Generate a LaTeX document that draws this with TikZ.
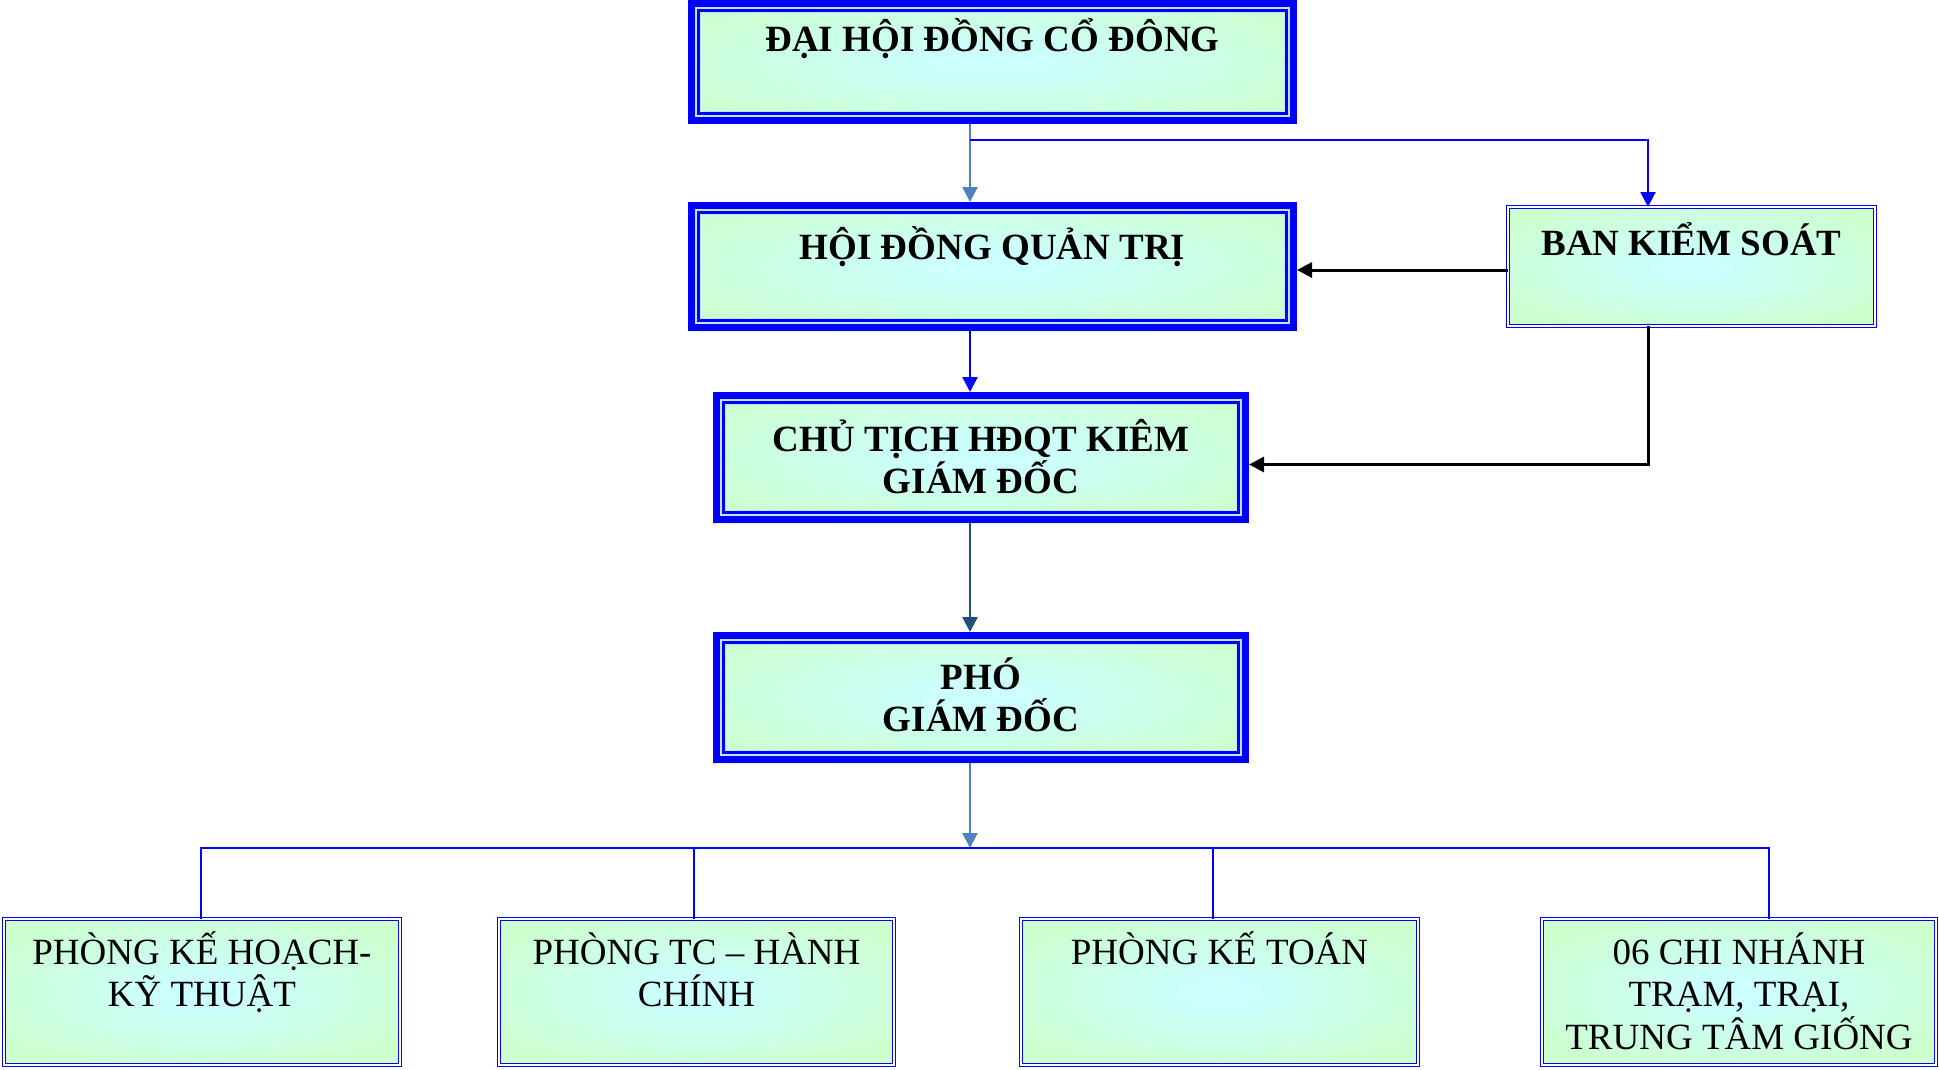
\documentclass[tikz,border=0pt]{standalone}
\usepackage{fontspec}
\setmainfont{Liberation Serif}
\usetikzlibrary{arrows.meta}
\definecolor{fillc}{RGB}{204,255,255}
\definecolor{fillg}{RGB}{204,255,204}
\definecolor{steel}{RGB}{79,129,189}
\definecolor{navyarr}{RGB}{36,76,128}
\definecolor{pale}{RGB}{190,230,240}
\pgfdeclareradialshading{boxshade}{\pgfpoint{0bp}{0bp}}{color(0bp)=(fillc); color(4bp)=(fillc); color(31bp)=(fillg); color(50bp)=(fillg)}
\newcommand\bxt[4]{\parbox[c][#2][t]{#1}{\centering\rule{0pt}{#3}#4}}
\newcommand\bigbf{\fontsize{37}{42}\selectfont\bfseries}
\newcommand\bigrm{\fontsize{37}{42.5}\selectfont}
\begin{document}
\begin{tikzpicture}[x=1pt,y=-1pt,
  box/.style={rectangle, inner sep=0pt, outer sep=0pt, shading=boxshade},
  thinbox/.style={box, draw=blue, line width=1.1pt, double=white, double distance=1.6pt},
  arr/.style={-{Triangle[width=15pt,length=15pt]}},
]
\useasboundingbox (0,0) rectangle (1939,1070);

% top chain
\node[box, minimum width=609pt, minimum height=124pt, font=\bigbf] (dhd) at (992.5,62)
  {\bxt{609pt}{124pt}{52pt}{ĐẠI HỘI ĐỒNG CỔ ĐÔNG}};
\node[box, minimum width=609pt, minimum height=129pt, font=\bigbf] (hdqt) at (992.5,266.5)
  {\bxt{609pt}{129pt}{57pt}{HỘI ĐỒNG QUẢN TRỊ}};
\node[thinbox, minimum width=367pt, minimum height=119pt, font=\bigbf] (bks) at (1691.5,266.5)
  {\bxt{367pt}{119pt}{48pt}{BAN KIỂM SOÁT}};
\node[box, minimum width=536pt, minimum height=131pt, font=\bigbf] (ct) at (981,457.5)
  {\bxt{536pt}{131pt}{59pt}{CHỦ TỊCH HĐQT KIÊM\\GIÁM ĐỐC}};
\node[box, minimum width=536pt, minimum height=131pt, font=\bigbf] (pgd) at (981,697.5)
  {\bxt{536pt}{131pt}{57pt}{PHÓ\\GIÁM ĐỐC}};

% bottom row
\node[thinbox, minimum width=396pt, minimum height=146pt, font=\bigrm] (b1) at (202,992)
  {\bxt{396pt}{146pt}{45pt}{PHÒNG KẾ HOẠCH-\\KỸ THUẬT}};
\node[thinbox, minimum width=395pt, minimum height=146pt, font=\bigrm] (b2) at (696.5,992)
  {\bxt{395pt}{146pt}{45pt}{PHÒNG TC – HÀNH\\CHÍNH}};
\node[thinbox, minimum width=397pt, minimum height=146pt, font=\bigrm] (b3) at (1219.5,992)
  {\bxt{397pt}{146pt}{45pt}{PHÒNG KẾ TOÁN}};
\node[thinbox, minimum width=394pt, minimum height=146pt, font=\bigrm] (b4) at (1739,992)
  {\bxt{394pt}{146pt}{45pt}{06 CHI NHÁNH\\TRẠM, TRẠI,\\TRUNG TÂM GIỐNG}};

% thick-thin borders
\foreach \n in {dhd,hdqt,ct,pgd}{
  \draw[pale, line width=5.3pt] ([shift={(10.05pt,10.05pt)}]\n.south west) rectangle ([shift={(-10.05pt,-10.05pt)}]\n.north east);
  \draw[blue, line width=7.4pt] ([shift={(3.7pt,3.7pt)}]\n.south west) rectangle ([shift={(-3.7pt,-3.7pt)}]\n.north east);
  \draw[blue, line width=2.3pt] ([shift={(10.55pt,10.55pt)}]\n.south west) rectangle ([shift={(-10.55pt,-10.55pt)}]\n.north east);
}

% helper coordinates
\coordinate (cx) at (970,0);
\coordinate (br) at (970,140);
\coordinate (bx) at (1648,140);
\coordinate (cty) at (0,464.5);
\coordinate (busL) at (201,848);
\coordinate (busR) at (1769,848);
\coordinate (d2) at (694,848);
\coordinate (d3) at (1213,848);

% connectors
\draw[steel, line width=2.5pt, arr] (dhd.south -| cx) -- (hdqt.north -| cx);
\draw[blue, line width=2pt, arr] (br) -- (bx) -- (bks.north -| bx);
\draw[black, line width=3pt, arr] ([yshift=-3.5pt]bks.west) -- ([yshift=-3.5pt]bks.west -| hdqt.east);
\draw[black, line width=3pt, arr] (bks.south -| bx) -- (bx |- cty) -- (ct.east |- cty);
\draw[blue, line width=2.5pt, arr] (hdqt.south -| cx) -- (ct.north -| cx);
\draw[navyarr, line width=2.5pt, arr] (ct.south -| cx) -- (pgd.north -| cx);
\draw[steel, line width=2.5pt, arr] (pgd.south -| cx) -- (cx |- busL);
\draw[blue, line width=2pt] (b1.north -| busL) -- (busL) -- (busR) -- (b4.north -| busR);
\draw[blue, line width=2pt] (d2) -- (b2.north -| d2);
\draw[blue, line width=2pt] (d3) -- (b3.north -| d3);
\end{tikzpicture}
\end{document}
